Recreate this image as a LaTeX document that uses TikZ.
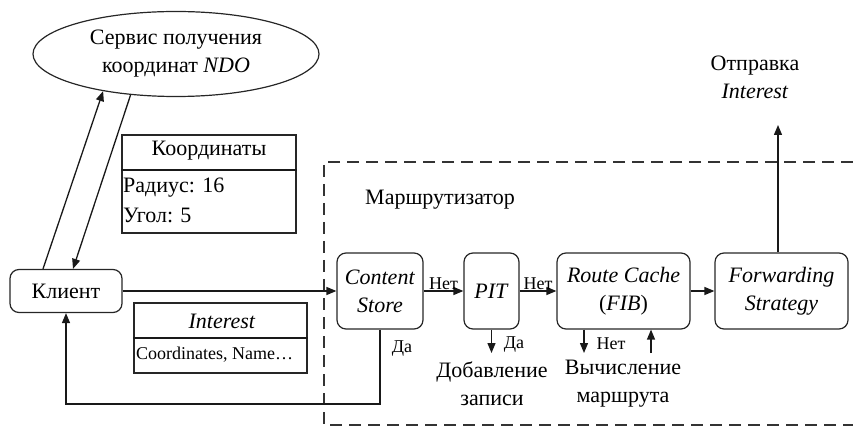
\documentclass[tikz,border=0pt]{standalone}
\usepackage{fontspec}
\setmainfont{Liberation Serif}
\usetikzlibrary{arrows.meta,shapes.geometric}

\tikzset{
  blok/.style={draw=black!85, line width=1.2pt, rounded corners=9pt, align=center, inner sep=0pt},
  tabl/.style={draw=black!85, line width=1.2pt, inner sep=0pt},
  strelka/.style={draw=black!90, line width=1.3pt, -{Triangle[length=10pt,width=8pt]}},
  linia/.style={draw=black!90, line width=1.3pt},
  txt/.style={font=\fontsize{22}{28}\selectfont, align=center},
  mal/.style={font=\fontsize{18}{20}\selectfont, inner sep=1pt},
}

\begin{document}
\begin{tikzpicture}[x=1pt,y=-1pt]
	\useasboundingbox (0,0) rectangle (853,427);
	
	% Маршрутизатор (пунктирная рамка)
	\draw[line width=1.3pt, black!80, dash pattern=on 12pt off 7pt] (853,162) -| (324,425) -- (853,425);
	\node[txt] (marshr) at (440,200) {Маршрутизатор};
	
	% Сервис и клиент
	\node[draw=black!85, ellipse, line width=1.2pt, minimum width=286pt, minimum height=85pt, inner sep=0pt, txt] (servis) at (176,54) {Сервис получения\\координат \textit{NDO}};
	\node[blok, txt, minimum width=112pt, minimum height=43pt] (klient) at (66,291) {Клиент};
	
	% Таблица координат
	\node[tabl, minimum width=174pt, minimum height=98pt] (koord) at (209,184) {};
	\coordinate (ksep) at (0,170);
	\draw[linia] (koord.west |- ksep) -- (koord.east |- ksep);
	\node[txt] (koordtxt) at (209,151) {Координаты};
	\node[txt, anchor=west, inner sep=0pt] (radius) at (123,188) {Радиус: 16};
	\node[txt, anchor=west, inner sep=0pt] (ugol) at (123,215) {Угол: 5};
	
	% Таблица Interest
	\node[tabl, minimum width=173pt, minimum height=70pt] (inter) at (220.5,338) {};
	\draw[linia] (inter.west) -- (inter.east);
	\node[txt] (intertxt) at (222,321) {\textit{Interest}};
	\node[mal, anchor=west] (intername) at (135,355) {Coordinates, Name…};
	
	% Блоки маршрутизатора
	\node[blok, txt, minimum width=86pt, minimum height=76pt] (cs) at (380,291) {\textit{Content}\\\textit{Store}};
	\node[blok, txt, minimum width=55pt, minimum height=76pt] (pit) at (491.5,291) {\textit{PIT}};
	\node[blok, txt, minimum width=133pt, minimum height=76pt] (rc) at (623.5,291) {\textit{Route Cache}\\(\textit{FIB})};
	\node[blok, txt, minimum width=133pt, minimum height=76pt] (fs) at (781.5,291) {\textit{Forwarding}\\\textit{Strategy}};
	
	% Подписи снизу и сверху
	\node[txt] (dobavl) at (492,384) {Добавление\\записи};
	\node[txt] (vychisl) at (623,384) {Вычисление\\маршрута};
	\node[txt] (otpravka) at (755,77) {Отправка\\\textit{Interest}};
	
	% Стрелки
	\draw[strelka] ([xshift=-23pt]klient.north) -- (servis.207);
	\draw[strelka] (servis.222) -- ([xshift=7pt]klient.north);
	\draw[strelka] (klient.east) -- (cs.west);
	\draw[strelka] (cs.east) -- node[mal, above] (net1) {Нет} (pit.west);
	\draw[strelka] (pit.east) -- node[mal, above] (net2) {Нет} (rc.west);
	\draw[strelka] (rc.east) -- (fs.west);
	
	\coordinate (vozvrat) at (66,404);
	\draw[strelka] (cs.south) |- (vozvrat) -- (klient.south);
	\node[mal] (da1) at (402,349) {Да};
	
	\coordinate (pitvniz) at (491.5,353);
	\draw[strelka] (pit.south) -- (pitvniz);
	\node[mal] (da2) at (514,345) {Да};
	
	\coordinate (rcvniz) at (584,353);
	\coordinate (rcvverh) at (651,353);
	\draw[strelka] (rcvniz |- rc.south) -- (rcvniz);
	\draw[strelka] (rcvverh) -- (rcvverh |- rc.south);
	\node[mal] (net3) at (611,344) {Нет};
	
	\coordinate (otpr) at (778,125);
	\draw[strelka] (otpr |- fs.north) -- (otpr);
\end{tikzpicture}
\end{document}
